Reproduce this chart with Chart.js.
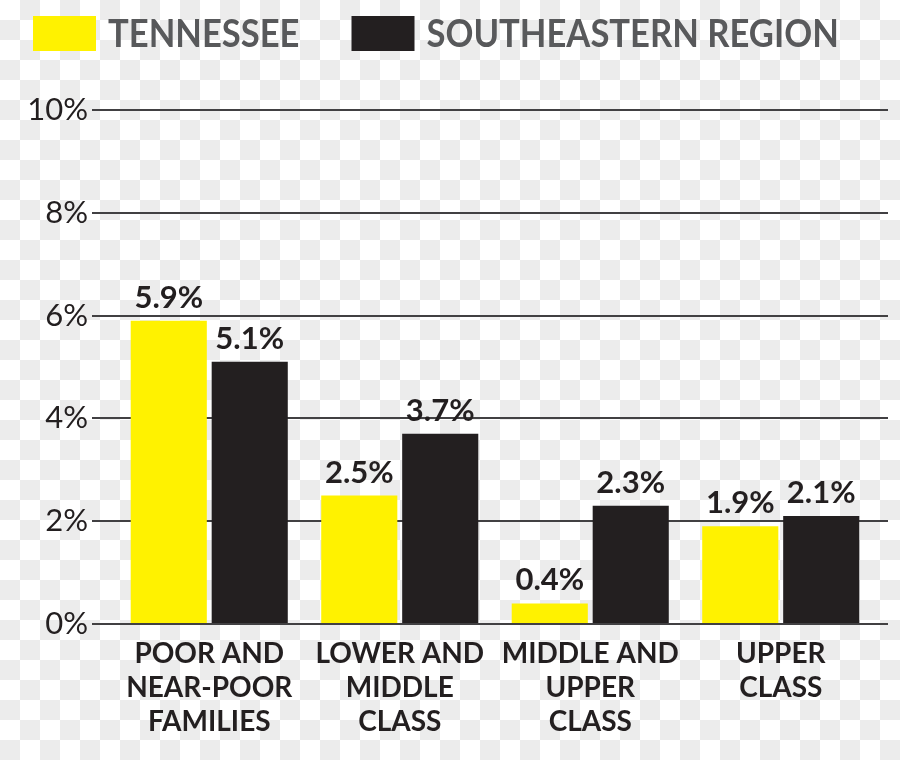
<!DOCTYPE html>
<html>
<head>
<meta charset="utf-8">
<script src="https://cdn.jsdelivr.net/npm/chart.js@4.4.1/dist/chart.umd.min.js"></script>
<style>
  html, body { margin: 0; padding: 0; }
  body {
    width: 900px; height: 760px; overflow: hidden;
    background: repeating-conic-gradient(#ececec 0% 25%, #ffffff 0% 50%) 0 0 / 40px 40px;
  }
  #wrap { position: relative; width: 900px; height: 760px; }
</style>
</head>
<body>
<div id="wrap"><canvas id="c"></canvas></div>
<script>
const categories = [
  ["POOR AND", "NEAR-POOR", "FAMILIES"],
  ["LOWER AND", "MIDDLE", "CLASS"],
  ["MIDDLE AND", "UPPER", "CLASS"],
  ["UPPER", "CLASS"]
];
const seriesNames = ["TENNESSEE", "SOUTHEASTERN REGION"];
const tennessee = [5.9, 2.5, 0.4, 1.9];
const southeastern = [5.1, 3.7, 2.3, 2.1];
const yTicks = [0, 2, 4, 6, 8, 10];

const colors = ["#fff200", "#231f20"];
const gridColor = "#414042";
const textDark = "#231f20";

const valueLabels = {
  id: "valueLabels",
  afterDatasetsDraw(chart) {
    const ctx = chart.ctx;
    ctx.save();
    ctx.font = "bold 31px Lato";
    ctx.fillStyle = textDark;
    ctx.textAlign = "center";
    ctx.textBaseline = "alphabetic";
    chart.data.datasets.forEach((ds, i) => {
      const meta = chart.getDatasetMeta(i);
      meta.data.forEach((bar, j) => {
        ctx.fillText(ds.data[j].toFixed(1) + "%", bar.x, bar.y - 13);
      });
    });
    ctx.restore();
  }
};

const customLegend = {
  id: "customLegend",
  afterDraw(chart) {
    const ctx = chart.ctx;
    ctx.save();
    ctx.font = "bold 38px Lato";
    ctx.textBaseline = "middle";
    ctx.textAlign = "left";
    const squeeze = 0.91;
    let x = 33;
    const boxW = 63, boxH = 35, top = 16;
    chart.data.datasets.forEach((ds, i) => {
      ctx.fillStyle = ds.backgroundColor;
      ctx.fillRect(x, top, boxW, boxH);
      const tx = x + boxW + 12;
      ctx.fillStyle = "#58595b";
      ctx.save();
      ctx.translate(tx, top + boxH / 2 + 1);
      ctx.scale(squeeze, 1);
      ctx.fillText(ds.label, 0, 0);
      ctx.restore();
      x = tx + ctx.measureText(ds.label).width * squeeze + 52;
    });
    ctx.restore();
  }
};

new Chart(document.getElementById("c"), {
  type: "bar",
  data: {
    labels: categories,
    datasets: [
      { label: seriesNames[0], data: tennessee, backgroundColor: colors[0] },
      { label: seriesNames[1], data: southeastern, backgroundColor: colors[1] }
    ]
  },
  options: {
    responsive: true,
    maintainAspectRatio: false,
    animation: false,
    layout: { padding: { top: 110, right: 12, left: 0, bottom: 0 } },
    datasets: { bar: { categoryPercentage: 0.85, barPercentage: 0.94 } },
    plugins: {
      legend: { display: false },
      tooltip: { enabled: false }
    },
    scales: {
      x: {
        grid: { display: false },
        border: { display: false },
        ticks: {
          color: textDark,
          font: { family: "Lato", size: 28, weight: "bold", lineHeight: 1.22 },
          padding: 5,
          maxRotation: 0,
          autoSkip: false
        },
        afterFit(s) { s.height = 136; }
      },
      y: {
        min: 0, max: 10,
        afterBuildTicks(s) { s.ticks = yTicks.map(v => ({ value: v })); },
        grid: { color: gridColor, lineWidth: 2, tickLength: 22, drawTicks: true },
        border: { display: false },
        ticks: {
          color: textDark,
          font: { family: "Lato", size: 31, weight: "normal" },
          padding: 4,
          callback: v => v + "%"
        },
        afterFit(s) { s.width = 114; }
      },
      y2: {
        position: "right",
        min: 0, max: 10,
        afterBuildTicks(s) { s.ticks = yTicks.map(v => ({ value: v })); },
        grid: { color: gridColor, lineWidth: 2, tickLength: 12, drawTicks: true, drawOnChartArea: false },
        border: { display: false },
        ticks: { display: false },
        afterFit(s) { s.width = 12; }
      }
    }
  },
  plugins: [valueLabels, customLegend]
});
</script>
</body>
</html>
